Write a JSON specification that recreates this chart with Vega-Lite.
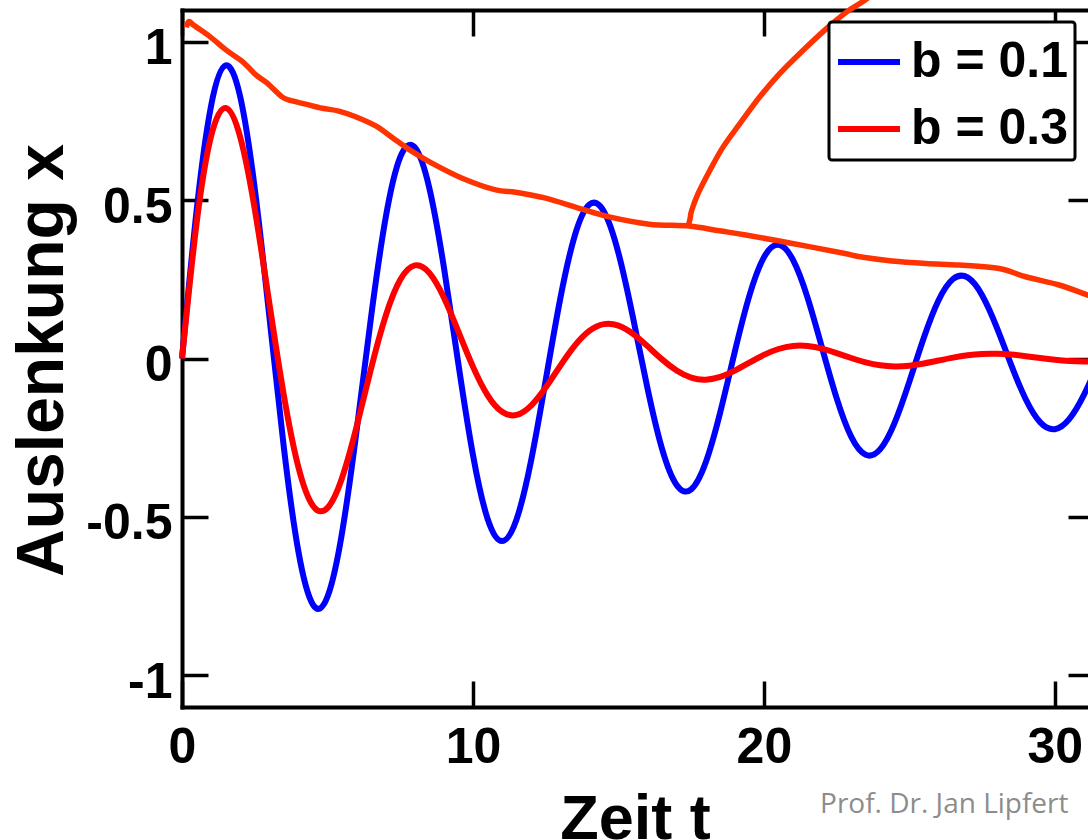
{
  "$schema": "https://vega.github.io/schema/vega-lite/v6.json",
  "width": 906,
  "height": 697,
  "autosize": {"type": "none"},
  "padding": {"left": 182, "top": 10, "right": 0, "bottom": 133},
  "background": "white",
  "config": {
    "view": {"stroke": null},
    "axis": {
      "grid": false,
      "domainColor": "#000000",
      "tickColor": "#000000",
      "labelColor": "#000000",
      "titleColor": "#000000",
      "labelFont": "Liberation Sans",
      "titleFont": "Liberation Sans",
      "labelFontWeight": "bold",
      "titleFontWeight": "bold",
      "domainCap": "square",
      "domainWidth": 4,
      "tickWidth": 3.5,
      "labelFontSize": 50,
      "labelFlush": false
    },
    "legend": {"strokeWidth": 3}
  },
  "datasets": {
    "osc": [
      {"b": "b = 0.1", "t": 0, "x": 0},
      {"b": "b = 0.1", "t": 0.5, "x": 0.4655},
      {"b": "b = 0.1", "t": 1, "x": 0.7979},
      {"b": "b = 0.1", "t": 1.5, "x": 0.9249},
      {"b": "b = 0.1", "t": 2, "x": 0.8265},
      {"b": "b = 0.1", "t": 2.5, "x": 0.5369},
      {"b": "b = 0.1", "t": 3, "x": 0.1342},
      {"b": "b = 0.1", "t": 3.5, "x": -0.2807},
      {"b": "b = 0.1", "t": 4, "x": -0.6088},
      {"b": "b = 0.1", "t": 4.5, "x": -0.7766},
      {"b": "b = 0.1", "t": 5, "x": -0.7521},
      {"b": "b = 0.1", "t": 5.5, "x": -0.5505},
      {"b": "b = 0.1", "t": 6, "x": -0.2283},
      {"b": "b = 0.1", "t": 6.5, "x": 0.1324},
      {"b": "b = 0.1", "t": 7, "x": 0.4441},
      {"b": "b = 0.1", "t": 7.5, "x": 0.6353},
      {"b": "b = 0.1", "t": 8, "x": 0.6666},
      {"b": "b = 0.1", "t": 8.5, "x": 0.5383},
      {"b": "b = 0.1", "t": 9, "x": 0.2886},
      {"b": "b = 0.1", "t": 9.5, "x": -0.0172},
      {"b": "b = 0.1", "t": 10, "x": -0.3041},
      {"b": "b = 0.1", "t": 10.5, "x": -0.5049},
      {"b": "b = 0.1", "t": 11, "x": -0.5762},
      {"b": "b = 0.1", "t": 11.5, "x": -0.5074},
      {"b": "b = 0.1", "t": 12, "x": -0.3217},
      {"b": "b = 0.1", "t": 12.5, "x": -0.0688},
      {"b": "b = 0.1", "t": 13, "x": 0.1881},
      {"b": "b = 0.1", "t": 13.5, "x": 0.3879},
      {"b": "b = 0.1", "t": 14, "x": 0.486},
      {"b": "b = 0.1", "t": 14.5, "x": 0.4641},
      {"b": "b = 0.1", "t": 15, "x": 0.3332},
      {"b": "b = 0.1", "t": 15.5, "x": 0.1297},
      {"b": "b = 0.1", "t": 16, "x": -0.0946},
      {"b": "b = 0.1", "t": 16.5, "x": -0.2855},
      {"b": "b = 0.1", "t": 17, "x": -0.3994},
      {"b": "b = 0.1", "t": 17.5, "x": -0.4131},
      {"b": "b = 0.1", "t": 18, "x": -0.3282},
      {"b": "b = 0.1", "t": 18.5, "x": -0.1696},
      {"b": "b = 0.1", "t": 19, "x": 0.0214},
      {"b": "b = 0.1", "t": 19.5, "x": 0.1981},
      {"b": "b = 0.1", "t": 20, "x": 0.3192},
      {"b": "b = 0.1", "t": 20.5, "x": 0.3587},
      {"b": "b = 0.1", "t": 21, "x": 0.3113},
      {"b": "b = 0.1", "t": 21.5, "x": 0.1923},
      {"b": "b = 0.1", "t": 22, "x": 0.0336},
      {"b": "b = 0.1", "t": 22.5, "x": -0.1253},
      {"b": "b = 0.1", "t": 23, "x": -0.2468},
      {"b": "b = 0.1", "t": 23.5, "x": -0.3039},
      {"b": "b = 0.1", "t": 24, "x": -0.2861},
      {"b": "b = 0.1", "t": 24.5, "x": -0.2014},
      {"b": "b = 0.1", "t": 25, "x": -0.073},
      {"b": "b = 0.1", "t": 25.5, "x": 0.0664},
      {"b": "b = 0.1", "t": 26, "x": 0.1832},
      {"b": "b = 0.1", "t": 26.5, "x": 0.2509},
      {"b": "b = 0.1", "t": 27, "x": 0.2559},
      {"b": "b = 0.1", "t": 27.5, "x": 0.1999},
      {"b": "b = 0.1", "t": 28, "x": 0.0993},
      {"b": "b = 0.1", "t": 28.5, "x": -0.02},
      {"b": "b = 0.1", "t": 29, "x": -0.1287},
      {"b": "b = 0.1", "t": 29.5, "x": -0.2016},
      {"b": "b = 0.1", "t": 30, "x": -0.2231},
      {"b": "b = 0.1", "t": 30.5, "x": -0.1907},
      {"b": "b = 0.1", "t": 31, "x": -0.1147},
      {"b": "b = 0.1", "t": 31.5, "x": -0.0152},
      {"b": "b = 0.3", "t": 0, "x": 0},
      {"b": "b = 0.3", "t": 0.5, "x": 0.4259},
      {"b": "b = 0.3", "t": 1, "x": 0.7021},
      {"b": "b = 0.3", "t": 1.5, "x": 0.7907},
      {"b": "b = 0.3", "t": 2, "x": 0.6991},
      {"b": "b = 0.3", "t": 2.5, "x": 0.4718},
      {"b": "b = 0.3", "t": 3, "x": 0.176},
      {"b": "b = 0.3", "t": 3.5, "x": -0.116},
      {"b": "b = 0.3", "t": 4, "x": -0.3427},
      {"b": "b = 0.3", "t": 4.5, "x": -0.465},
      {"b": "b = 0.3", "t": 5, "x": -0.4716},
      {"b": "b = 0.3", "t": 5.5, "x": -0.3771},
      {"b": "b = 0.3", "t": 6, "x": -0.2157},
      {"b": "b = 0.3", "t": 6.5, "x": -0.031},
      {"b": "b = 0.3", "t": 7, "x": 0.1346},
      {"b": "b = 0.3", "t": 7.5, "x": 0.2485},
      {"b": "b = 0.3", "t": 8, "x": 0.2938},
      {"b": "b = 0.3", "t": 8.5, "x": 0.2704},
      {"b": "b = 0.3", "t": 9, "x": 0.1928},
      {"b": "b = 0.3", "t": 9.5, "x": 0.0851},
      {"b": "b = 0.3", "t": 10, "x": -0.0257},
      {"b": "b = 0.3", "t": 10.5, "x": -0.1156},
      {"b": "b = 0.3", "t": 11, "x": -0.1684},
      {"b": "b = 0.3", "t": 11.5, "x": -0.1781},
      {"b": "b = 0.3", "t": 12, "x": -0.1487},
      {"b": "b = 0.3", "t": 12.5, "x": -0.0918},
      {"b": "b = 0.3", "t": 13, "x": -0.0233},
      {"b": "b = 0.3", "t": 13.5, "x": 0.0406},
      {"b": "b = 0.3", "t": 14, "x": 0.087},
      {"b": "b = 0.3", "t": 14.5, "x": 0.1084},
      {"b": "b = 0.3", "t": 15, "x": 0.1038},
      {"b": "b = 0.3", "t": 15.5, "x": 0.0779},
      {"b": "b = 0.3", "t": 16, "x": 0.039},
      {"b": "b = 0.3", "t": 16.5, "x": -0.0028},
      {"b": "b = 0.3", "t": 17, "x": -0.0381},
      {"b": "b = 0.3", "t": 17.5, "x": -0.0604},
      {"b": "b = 0.3", "t": 18, "x": -0.0668},
      {"b": "b = 0.3", "t": 18.5, "x": -0.0581},
      {"b": "b = 0.3", "t": 19, "x": -0.0383},
      {"b": "b = 0.3", "t": 19.5, "x": -0.0131},
      {"b": "b = 0.3", "t": 20, "x": 0.0114},
      {"b": "b = 0.3", "t": 20.5, "x": 0.03},
      {"b": "b = 0.3", "t": 21, "x": 0.0397},
      {"b": "b = 0.3", "t": 21.5, "x": 0.0396},
      {"b": "b = 0.3", "t": 22, "x": 0.0311},
      {"b": "b = 0.3", "t": 22.5, "x": 0.0172},
      {"b": "b = 0.3", "t": 23, "x": 0.0016},
      {"b": "b = 0.3", "t": 23.5, "x": -0.0122},
      {"b": "b = 0.3", "t": 24, "x": -0.0215},
      {"b": "b = 0.3", "t": 24.5, "x": -0.0249},
      {"b": "b = 0.3", "t": 25, "x": -0.0226},
      {"b": "b = 0.3", "t": 25.5, "x": -0.0157},
      {"b": "b = 0.3", "t": 26, "x": -0.0065},
      {"b": "b = 0.3", "t": 26.5, "x": 0.0028},
      {"b": "b = 0.3", "t": 27, "x": 0.0102},
      {"b": "b = 0.3", "t": 27.5, "x": 0.0144},
      {"b": "b = 0.3", "t": 28, "x": 0.015},
      {"b": "b = 0.3", "t": 28.5, "x": 0.0123},
      {"b": "b = 0.3", "t": 29, "x": 0.0074},
      {"b": "b = 0.3", "t": 29.5, "x": 0.0016},
      {"b": "b = 0.3", "t": 30, "x": -0.0038},
      {"b": "b = 0.3", "t": 30.5, "x": -0.0076},
      {"b": "b = 0.3", "t": 31, "x": -0.0092},
      {"b": "b = 0.3", "t": 31.5, "x": -0.0087}
    ],
    "ann": [
      {"s": "env", "i": 0, "t": 0.15, "v": 1.045},
      {"s": "env", "i": 1, "t": 0.24, "v": 1.064},
      {"s": "env", "i": 2, "t": 0.43, "v": 1.05},
      {"s": "env", "i": 3, "t": 0.96, "v": 1.016},
      {"s": "env", "i": 4, "t": 1.51, "v": 0.974},
      {"s": "env", "i": 5, "t": 2.08, "v": 0.937},
      {"s": "env", "i": 6, "t": 2.54, "v": 0.895},
      {"s": "env", "i": 7, "t": 2.93, "v": 0.869},
      {"s": "env", "i": 8, "t": 3.45, "v": 0.825},
      {"s": "env", "i": 9, "t": 3.79, "v": 0.813},
      {"s": "env", "i": 10, "t": 4.25, "v": 0.803},
      {"s": "env", "i": 11, "t": 4.82, "v": 0.79},
      {"s": "env", "i": 12, "t": 5.39, "v": 0.781},
      {"s": "env", "i": 13, "t": 5.97, "v": 0.763},
      {"s": "env", "i": 14, "t": 6.66, "v": 0.734},
      {"s": "env", "i": 15, "t": 7.34, "v": 0.69},
      {"s": "env", "i": 16, "t": 7.92, "v": 0.653},
      {"s": "env", "i": 17, "t": 8.6, "v": 0.616},
      {"s": "env", "i": 18, "t": 9.63, "v": 0.569},
      {"s": "env", "i": 19, "t": 10.78, "v": 0.532},
      {"s": "env", "i": 20, "t": 11.47, "v": 0.525},
      {"s": "env", "i": 21, "t": 12.5, "v": 0.506},
      {"s": "env", "i": 22, "t": 13.65, "v": 0.474},
      {"s": "env", "i": 23, "t": 14.68, "v": 0.447},
      {"s": "env", "i": 24, "t": 16.06, "v": 0.424},
      {"s": "env", "i": 25, "t": 17.43, "v": 0.418},
      {"s": "env", "i": 26, "t": 18.47, "v": 0.403},
      {"s": "env", "i": 27, "t": 19.38, "v": 0.39},
      {"s": "env", "i": 28, "t": 20.98, "v": 0.363},
      {"s": "env", "i": 29, "t": 22.7, "v": 0.333},
      {"s": "env", "i": 30, "t": 23.3, "v": 0.321},
      {"s": "env", "i": 31, "t": 24.4, "v": 0.308},
      {"s": "env", "i": 32, "t": 25.57, "v": 0.3},
      {"s": "env", "i": 33, "t": 26.72, "v": 0.295},
      {"s": "env", "i": 34, "t": 28.09, "v": 0.284},
      {"s": "env", "i": 35, "t": 29.0, "v": 0.258},
      {"s": "env", "i": 36, "t": 30.15, "v": 0.232},
      {"s": "env", "i": 37, "t": 31.14, "v": 0.2},
      {"s": "env", "i": 38, "t": 31.4, "v": 0.192},
      {"s": "arc", "i": 0, "t": 17.4, "v": 0.418},
      {"s": "arc", "i": 1, "t": 17.46, "v": 0.44},
      {"s": "arc", "i": 2, "t": 17.52, "v": 0.468},
      {"s": "arc", "i": 3, "t": 17.74, "v": 0.521},
      {"s": "arc", "i": 4, "t": 18.15, "v": 0.595},
      {"s": "arc", "i": 5, "t": 18.6, "v": 0.668},
      {"s": "arc", "i": 6, "t": 19.18, "v": 0.742},
      {"s": "arc", "i": 7, "t": 19.86, "v": 0.826},
      {"s": "arc", "i": 8, "t": 20.55, "v": 0.9},
      {"s": "arc", "i": 9, "t": 21.35, "v": 0.973},
      {"s": "arc", "i": 10, "t": 22.16, "v": 1.042},
      {"s": "arc", "i": 11, "t": 22.85, "v": 1.094},
      {"s": "arc", "i": 12, "t": 23.47, "v": 1.131},
      {"s": "arc", "i": 13, "t": 24.16, "v": 1.178}
    ]
  },
  "layer": [
    {
      "data": {"name": "osc"},
      "mark": {"type": "line", "strokeWidth": 6, "interpolate": "natural"},
      "encoding": {
        "x": {
          "field": "t",
          "type": "quantitative",
          "scale": {"domain": [0, 31.14], "nice": false, "zero": false},
          "axis": {
            "orient": "bottom",
            "values": [0, 10, 20, 30],
            "format": "d",
            "tickSize": -26,
            "labelPadding": 41,
            "title": "Zeit t",
            "titleFontSize": 63,
            "titleY": 131,
            "titleBaseline": "alphabetic"
          }
        },
        "y": {
          "field": "x",
          "type": "quantitative",
          "scale": {"domain": [-1.1, 1.1], "nice": false, "zero": false},
          "axis": {
            "orient": "left",
            "values": [-1, -0.5, 0, 0.5, 1],
            "labelExpr": "datum.value < 0 ? '-' + format(-datum.value, '~g') : format(datum.value, '~g')",
            "tickSize": -26,
            "labelPadding": 36,
            "labelOffset": 7,
            "title": "Auslenkung x",
            "titleFontSize": 66,
            "titleAngle": 270,
            "titleX": -120,
            "titleY": 350,
            "titleAlign": "center",
            "titleBaseline": "alphabetic"
          }
        },
        "color": {
          "field": "b",
          "type": "nominal",
          "scale": {"domain": ["b = 0.1", "b = 0.3"], "range": ["#0000ff", "#ff0000"]},
          "legend": {
            "title": null,
            "orient": "none",
            "legendX": 647,
            "legendY": 12,
            "symbolType": "stroke",
            "symbolSize": 3844,
            "symbolStrokeWidth": 6,
            "labelFont": "Liberation Sans",
            "labelFontWeight": "bold",
            "labelFontSize": 50,
            "labelColor": "#000000",
            "labelOffset": 8,
            "labelLimit": 500,
            "labelExpr": "datum.label + ' '",
            "padding": 6,
            "rowPadding": 8,
            "strokeColor": "#000000",
            "fillColor": "#ffffff",
            "cornerRadius": 3
          }
        }
      }
    },
    {
      "data": {"name": "ann"},
      "mark": {"type": "line", "strokeWidth": 5.5, "color": "#ff3300", "interpolate": "cardinal"},
      "encoding": {
        "x": {
          "field": "t",
          "type": "quantitative",
          "scale": {"domain": [0, 31.14], "nice": false, "zero": false},
          "axis": {
            "orient": "top",
            "values": [0, 10, 20, 30],
            "tickSize": -26,
            "labels": false,
            "title": null
          }
        },
        "y": {
          "field": "v",
          "type": "quantitative",
          "scale": {"domain": [-1.1, 1.1], "nice": false, "zero": false},
          "axis": {
            "orient": "right",
            "values": [-1, -0.5, 0, 0.5, 1],
            "tickSize": -20,
            "labels": false,
            "domain": false,
            "title": null
          }
        },
        "detail": {"field": "s", "type": "nominal"},
        "order": {"field": "i", "type": "quantitative"}
      }
    },
    {
      "data": {"values": [{"label": "Prof. Dr. Jan Lipfert"}]},
      "mark": {"type": "text", "font": "Open Sans", "fontSize": 28, "color": "#8c8c8c", "align": "left", "baseline": "alphabetic"},
      "encoding": {
        "text": {"field": "label", "type": "nominal"},
        "x": {"datum": 21.93, "type": "quantitative", "axis": null, "scale": {"domain": [0, 31.14], "nice": false, "zero": false}},
        "y": {"datum": -1.435, "type": "quantitative", "axis": null, "scale": {"domain": [-1.1, 1.1], "nice": false, "zero": false}}
      }
    }
  ],
  "resolve": {"axis": {"x": "independent", "y": "independent"}}
}
